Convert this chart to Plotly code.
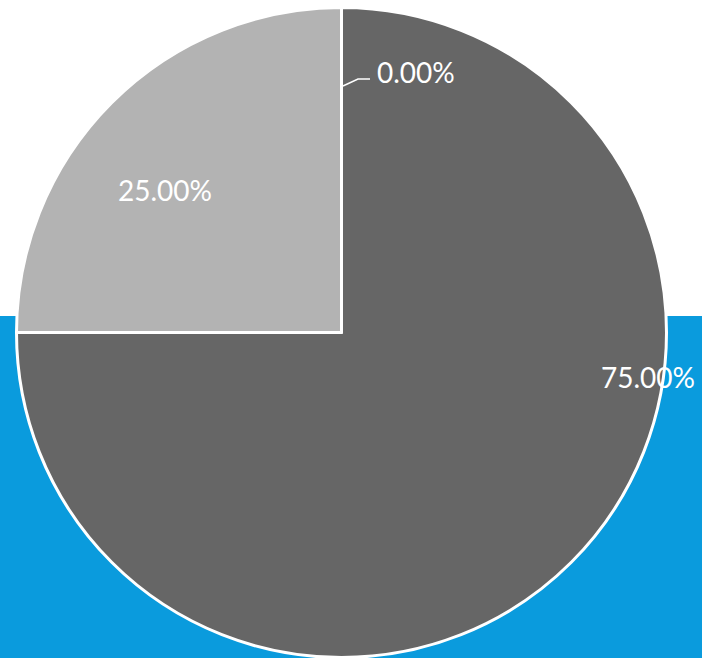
import plotly.graph_objects as go

labels = ["A", "B", "C"]
values = [0, 75, 25]
colors = ["#8c8c8c", "#666666", "#b3b3b3"]

W, H = 702, 658
cx, cy, R = 341.5, 332.5, 325

total = sum(values)
pct_text = [f"{v / total * 100:.2f}%" for v in values]

fig = go.Figure()
fig.add_trace(go.Pie(
    labels=labels,
    values=values,
    sort=False,
    direction="clockwise",
    rotation=0,
    marker=dict(colors=colors, line=dict(color="white", width=3)),
    textinfo="none",
    hoverinfo="label+percent",
    showlegend=False,
    domain=dict(x=[(cx - R) / W, (cx + R) / W], y=[1 - (cy + R) / H, 1 - (cy - R) / H]),
))

def px(x):
    return x / W

def py(y):
    return 1 - y / H

# blue band behind the pie
fig.add_shape(type="rect", xref="paper", yref="paper", x0=0, x1=1, y0=0, y1=py(316),
              fillcolor="#0A9BDD", line=dict(width=0), layer="below")

# leader line for the 0% slice
fig.add_shape(type="path", xref="paper", yref="paper",
              path=f"M {px(343)} {py(86)} L {px(358)} {py(79)} L {px(370)} {py(79)}",
              line=dict(color="white", width=1.5), layer="above")

label_pos = [(416, 72), (648, 377), (165, 190)]
for t, (x, y) in zip(pct_text, label_pos):
    fig.add_annotation(x=px(x), y=py(y), xref="paper", yref="paper", text=t,
                       showarrow=False, font=dict(family="Lato", size=28, color="white"),
                       xanchor="center", yanchor="middle")

fig.update_layout(
    width=W, height=H,
    margin=dict(l=0, r=0, t=0, b=0),
    paper_bgcolor="white",
    plot_bgcolor="white",
)

fig.write_html("out.html", config={"displayModeBar": False},
               post_script="document.body.style.margin='0';document.body.style.padding='0';")
